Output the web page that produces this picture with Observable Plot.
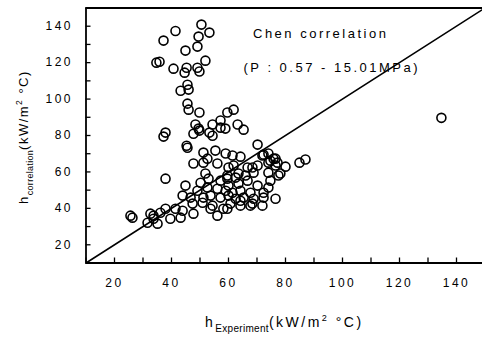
<!DOCTYPE html>
<html><head><meta charset="utf-8">
<script src="https://cdn.jsdelivr.net/npm/d3@7"></script>
<script src="https://cdn.jsdelivr.net/npm/@observablehq/plot@0.6"></script>
<style>
body{margin:0;background:#fff;overflow:hidden}
#chart svg{display:block}
</style></head><body><div id="chart"></div>
<script>
const hExperiment = [
 50.5,53.3,49.5,41.4,37.2,49.1,44.9,51.9,35.8,34.7,40.7,45.3,44.6,49.1,49.8,45.6,43.2,46.0,45.6,46.0,
 49.8,59.6,61.8,57.2,48.4,49.5,54.4,58.9,63.2,65.3,37.9,37.2,47.7,49.8,53.3,54.4,57.2,134.7,45.3,45.6,
 70.2,51.2,55.4,59.0,64.2,72.3,75.8,61.4,71.9,74.0,76.5,74.7,80.0,84.9,87.0,47.7,51.2,56.1,52.6,60.0,
 61.8,66.7,68.4,70.2,74.0,76.5,77.2,37.9,44.9,50.2,53.0,57.2,59.6,51.9,59.6,63.5,62.5,66.0,68.8,74.0,
 77.5,78.2,60.0,63.5,66.7,70.2,74.7,49.1,52.6,56.1,59.0,61.4,64.2,67.7,72.3,74.0,43.9,46.7,51.2,53.7,
 57.2,60.0,62.5,65.3,68.8,72.3,60.7,64.2,67.7,71.9,76.5,58.2,37.9,41.4,43.9,47.4,50.9,54.4,33.7,36.1,
 39.6,43.2,47.7,53.7,56.1,31.6,35.1,33.7,32.6,25.6,26.3,59.6,64.2,68.4
];
const hCorrelation = [
 140.9,136.5,134.3,137.4,132.1,128.8,126.6,121.1,120.5,120.0,116.7,117.2,114.5,117.2,115.1,107.9,104.6,105.2,97.5,94.2,
 92.6,92.6,94.2,88.2,86.0,83.8,86.0,83.8,86.0,83.2,81.6,79.4,81.0,82.7,81.6,79.9,84.3,89.7,74.4,73.3,
 75.0,70.6,71.7,70.1,68.4,69.5,67.3,69.0,69.0,70.1,67.3,66.2,62.9,65.1,66.8,64.6,65.1,64.6,67.3,62.4,
 63.5,62.4,62.4,63.5,65.1,63.5,65.1,56.3,52.5,54.1,56.3,55.2,56.3,59.1,58.0,59.1,56.9,58.0,59.6,59.6,
 58.0,59.1,52.5,53.6,55.2,52.5,55.2,49.7,51.4,50.8,49.7,48.6,49.7,48.6,48.6,51.4,47.0,45.9,45.9,47.0,
 45.9,47.0,45.3,45.9,45.3,45.9,42.6,41.5,41.5,41.5,45.3,39.8,39.8,39.8,38.7,42.6,43.1,41.5,36.0,37.6,
 34.3,34.9,37.1,39.8,36.0,32.1,31.6,34.3,37.1,36.0,34.9,39.8,44.2,42.6
];
const xDomain = [10, 150];
const yDomain = [10, 150];
const minorTicks = d3.range(10, 151, 10);
const xTickLabels = [20, 40, 60, 80, 100, 120, 140];
const yTickLabels = [20, 40, 60, 80, 100, 120, 140];
const diagonal = [10, 150];
const annotations = ["Chen correlation", "(P : 0.57 - 15.01MPa)"];

const points = hExperiment.map((x, i) => ({x, y: hCorrelation[i]}));
const black = "#000";

const chart = Plot.plot({
  width: 482, height: 341,
  marginLeft: 85.5, marginRight: 0, marginTop: 7.5, marginBottom: 78.5,
  style: {fontFamily: '"Liberation Sans", Arial, sans-serif', fontSize: "12px", letterSpacing: "2.5px", background: "#fff", color: "#000"},
  x: {domain: xDomain, range: [85.5, 484.5]},
  y: {domain: yDomain},
  marks: [
    Plot.line(diagonal, {x: d => d, y: d => d, stroke: black, strokeWidth: 1.6}),
    Plot.dot(points, {x: "x", y: "y", r: 4.5, stroke: black, strokeWidth: 1.6, fill: "none"}),
    Plot.tickX(minorTicks, {x: d => d, insetTop: 250, stroke: black, strokeWidth: 1.3}),
    Plot.tickY(minorTicks, {y: d => d, insetRight: 391.5, stroke: black, strokeWidth: 1.3}),
    Plot.ruleY([yDomain[1]], {stroke: black, strokeWidth: 1.8}),
    Plot.ruleY([yDomain[0]], {stroke: black, strokeWidth: 1.8}),
    Plot.ruleX([xDomain[0]], {stroke: black, strokeWidth: 1.8}),
    Plot.axisX({ticks: xTickLabels, tickSize: 0, tickPadding: 15, label: null}),
    Plot.axisY({ticks: yTickLabels, tickSize: 0, tickPadding: 13, label: null}),
    Plot.text([annotations[0]], {text: d => d, frameAnchor: "top-left", dx: 167, dy: 20.5, textAnchor: "start", fontSize: 13}),
    Plot.text([annotations[1]], {text: d => d, frameAnchor: "top-left", dx: 157.5, dy: 54.5, textAnchor: "start", fontSize: 13})
  ]
});
document.getElementById("chart").appendChild(chart);

const svg = d3.select(chart);
function axisLabel(sel, sub, fs, subFs) {
  sel.append("tspan").text("h");
  sel.append("tspan").attr("font-size", subFs).attr("letter-spacing", "0.3px").attr("dy", 4.5).text(sub);
  sel.append("tspan").attr("font-size", fs).attr("dy", -4.5).text("(kW/m");
  sel.append("tspan").attr("font-size", fs * 0.65).attr("dy", -6).text("2");
  sel.append("tspan").attr("font-size", fs).attr("dy", 6).text(" °C)");
}
const xl = svg.append("text").attr("x", 205).attr("y", 327).attr("text-anchor", "start")
  .attr("font-size", 14).attr("letter-spacing", "2.5px").attr("fill", black);
axisLabel(xl, "Experiment", 14, 10);
const yl = svg.append("text").attr("transform", "translate(28,204) rotate(-90)").attr("text-anchor", "start")
  .attr("font-size", 13).attr("letter-spacing", "1.5px").attr("fill", black);
axisLabel(yl, "correlation", 13, 9);
</script></body></html>
